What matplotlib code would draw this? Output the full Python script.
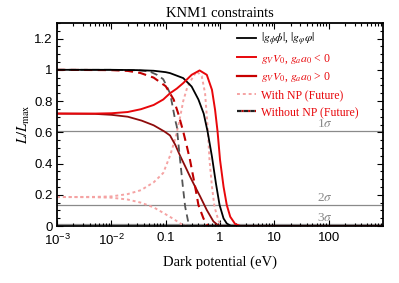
import matplotlib
matplotlib.use("Agg")
import matplotlib.pyplot as plt
from matplotlib.lines import Line2D
from matplotlib.ticker import LogLocator, MultipleLocator, FixedLocator, NullFormatter

plt.rcParams['font.family'] = ['Liberation Serif', 'DejaVu Serif']
plt.rcParams['mathtext.fontset'] = 'stix'

# black solid: |g_phi phi|
x_black = [0.001, 0.01, 0.03, 0.06, 0.1, 0.12, 0.21, 0.30, 0.40, 0.50, 0.59, 0.71, 0.84, 0.98, 1.16, 1.33, 1.6, 1000]
y_black = [1.0, 1.0, 0.998, 0.994, 0.985, 0.979, 0.947, 0.893, 0.81, 0.72, 0.605, 0.444, 0.273, 0.135, 0.049, 0.017, 0.0, 0.0]

# bright red solid: g < 0
x_neg = [0.001, 0.005, 0.01, 0.02, 0.035, 0.06, 0.09, 0.12, 0.16, 0.21, 0.30, 0.42, 0.57, 0.71, 0.81, 0.90, 1.0, 1.16, 1.33, 1.54, 1.9, 2.4, 1000]
y_neg = [0.72, 0.72, 0.722, 0.73, 0.748, 0.775, 0.81, 0.85, 0.88, 0.915, 0.968, 0.996, 0.968, 0.872, 0.744, 0.605, 0.423, 0.252, 0.135, 0.06, 0.013, 0.0, 0.0]

# dark red solid: g > 0
x_pos = [0.001, 0.005, 0.01, 0.02, 0.036, 0.06, 0.095, 0.12, 0.15, 0.184, 0.23, 0.281, 0.35, 0.43, 0.57, 0.755, 0.9, 1.0, 1000]
y_pos = [0.72, 0.718, 0.712, 0.70, 0.675, 0.645, 0.605, 0.58, 0.52, 0.45, 0.38, 0.316, 0.25, 0.19, 0.103, 0.03, 0.008, 0.0, 0.0]

# pink dotted (with NP, future), rising branch
x_np_up = [0.001, 0.005, 0.01, 0.02, 0.035, 0.06, 0.09, 0.12, 0.15, 0.18, 0.21, 0.25, 0.30, 0.37, 0.46, 0.53, 0.59, 0.64, 0.71, 0.79, 0.94, 1.1, 1000]
y_np_up = [0.186, 0.187, 0.19, 0.205, 0.23, 0.28, 0.34, 0.45, 0.56, 0.68, 0.80, 0.89, 0.94, 0.99, 0.96, 0.85, 0.637, 0.423, 0.252, 0.124, 0.032, 0.0, 0.0]

# pink dotted (with NP, future), falling branch
x_np_dn = [0.001, 0.005, 0.01, 0.02, 0.035, 0.06, 0.09, 0.14, 0.2, 0.25, 1000]
y_np_dn = [0.186, 0.185, 0.182, 0.17, 0.15, 0.12, 0.085, 0.045, 0.01, 0.0, 0.0]

# grey dashed (without NP, future)
x_nonp_k = [0.001, 0.01, 0.03, 0.05, 0.069, 0.09, 0.105, 0.12, 0.13, 0.149, 0.16, 0.171, 0.184, 0.207, 0.228, 0.262, 0.29, 1000]
y_nonp_k = [1.0, 1.0, 0.997, 0.99, 0.968, 0.94, 0.893, 0.85, 0.79, 0.68, 0.637, 0.53, 0.423, 0.252, 0.124, 0.02, 0.0, 0.0]

# dark red dashed (without NP, future)
x_nonp_r = [0.001, 0.01, 0.02, 0.034, 0.06, 0.1, 0.14, 0.17, 0.19, 0.21, 0.245, 0.28, 0.348, 0.40, 0.495, 0.6, 1000]
y_nonp_r = [1.0, 0.998, 0.993, 0.98, 0.95, 0.895, 0.81, 0.72, 0.66, 0.605, 0.51, 0.423, 0.252, 0.135, 0.049, 0.0, 0.0]

sigma_levels = [0.607, 0.135, 0.011]
sigma_labels = ['1$\\sigma$', '2$\\sigma$', '3$\\sigma$']

x_ticks = [1e-3, 1e-2, 0.1, 1, 10, 100]
x_ticklabels = ['$\\mathregular{10^{-3}}$', '$\\mathregular{10^{-2}}$', '0.1', '1', '10', '100']
y_ticks = [0, 0.2, 0.4, 0.6, 0.8, 1.0, 1.2]
y_ticklabels = ['0', '0.2', '0.4', '0.6', '0.8', '1', '1.2']

red = '#e8070b'
darkred = '#8e0b0b'
dashred = '#c00000'
pink = '#f5a3a3'
grey = '#555555'

fig = plt.figure(figsize=(3.99, 2.83), dpi=100)
ax = fig.add_axes([0.143, 0.201, 0.817, 0.718])

for lev in sigma_levels:
    ax.axhline(lev, color='#8a8a8a', lw=0.9, zorder=1)
for lev, lab in zip(sigma_levels, sigma_labels):
    ax.text(85, lev + 0.005, lab, color='#8a8a8a', fontsize=9.5, ha='center', va='bottom')

ax.plot(x_np_dn, y_np_dn, color=pink, ls=(0, (1.5, 1.5)), lw=1.4)
ax.plot(x_np_up, y_np_up, color=pink, ls=(0, (1.5, 1.5)), lw=1.4)
ax.plot(x_pos, y_pos, color=darkred, lw=1.3)
ax.plot(x_nonp_k, y_nonp_k, color=grey, ls=(0, (4, 2.5)), lw=1.3)
ax.plot(x_nonp_r, y_nonp_r, color=dashred, ls=(0, (4, 2.5)), lw=1.5)
ax.plot(x_black, y_black, color='black', lw=1.3)
ax.plot(x_neg, y_neg, color=red, lw=1.4)

ax.set_xscale('log')
ax.set_xlim(1e-3, 1000)
ax.set_ylim(0, 1.3)

ax.xaxis.set_major_locator(FixedLocator(x_ticks))
ax.set_xticklabels(x_ticklabels, fontfamily=['Liberation Sans', 'DejaVu Sans'], fontsize=9.5)
ax.xaxis.set_minor_locator(LogLocator(base=10, subs=range(2, 10), numticks=20))
ax.xaxis.set_minor_formatter(NullFormatter())
ax.yaxis.set_major_locator(FixedLocator(y_ticks))
ax.set_yticklabels(y_ticklabels, fontfamily=['Liberation Sans', 'DejaVu Sans'], fontsize=9.5)
ax.yaxis.set_minor_locator(MultipleLocator(0.05))

ax.tick_params(which='both', direction='in', top=True, right=True, width=0.8)
ax.tick_params(which='major', length=4.5)
ax.tick_params(axis='x', which='major', pad=4.5)
ax.tick_params(axis='y', which='major', pad=3)
ax.tick_params(which='minor', length=2.5)
for sp in ax.spines.values():
    sp.set_linewidth(1.3)

ax.set_title('KNM1 constraints', fontsize=10.5, pad=4)
ax.set_xlabel('Dark potential (eV)', fontsize=10.5, labelpad=6)
ax.set_ylabel('$L/L_{\\max}$', fontsize=10.5, labelpad=2)

handles = [
    Line2D([], [], color='black', lw=1.3),
    Line2D([], [], color=red, lw=1.4),
    Line2D([], [], color='#c80000', lw=1.6),
    Line2D([], [], color=pink, ls=(0, (1.5, 1.5)), lw=1.4),
    Line2D([], [], color='#222222', ls=(0, (2, 1)), gapcolor='#c00000', lw=1.6),
]
labels = [
    '$|g_\\phi\\phi|$, $|g_\\varphi\\varphi|$',
    '$g_V V_0$, $g_a a_0$ < 0',
    '$g_V V_0$, $g_a a_0$ > 0',
    'With NP (Future)',
    'Without NP (Future)',
]
leg = ax.legend(handles, labels, loc='upper left', bbox_to_anchor=(0.545, 0.975),
                frameon=False, fontsize=8.5, handlelength=1.6, handletextpad=0.45,
                labelspacing=0.42, borderaxespad=0.0, borderpad=0.2)
for i, t in enumerate(leg.get_texts()):
    t.set_color('black' if i == 0 else red)

fig.savefig('out.png', dpi=100)
